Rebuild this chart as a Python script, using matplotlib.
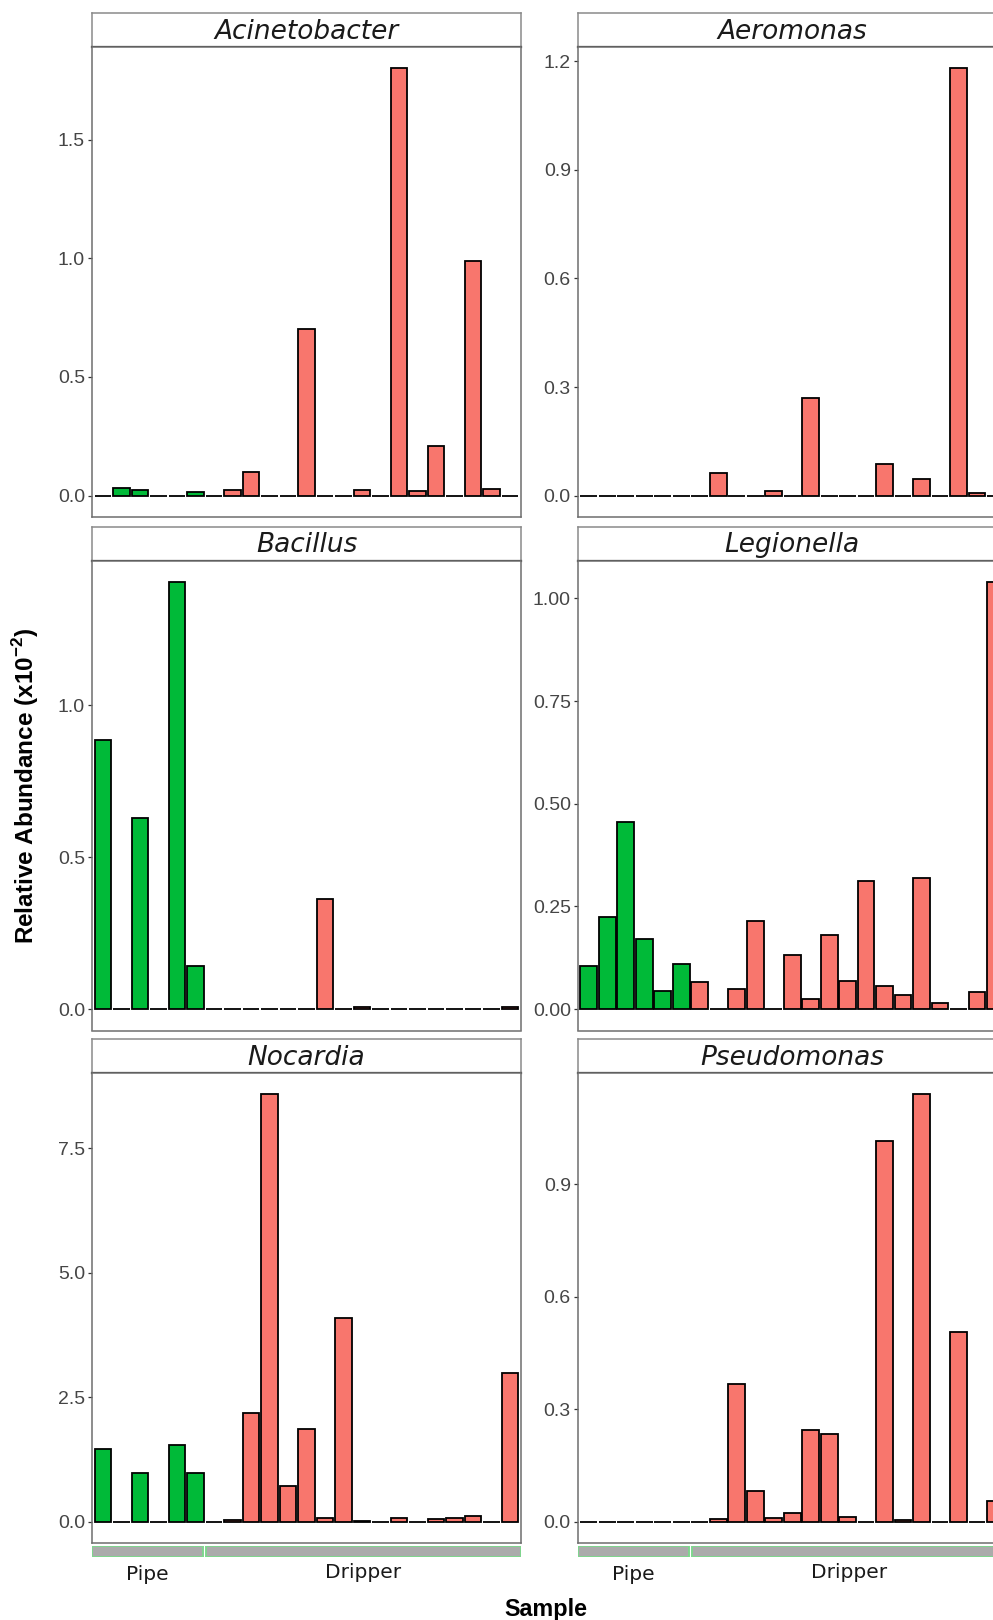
import numpy as np
import matplotlib.pyplot as plt

plt.rcParams['mathtext.fontset'] = 'custom'
plt.rcParams['mathtext.rm'] = 'Liberation Sans'
plt.rcParams['mathtext.bf'] = 'Liberation Sans:bold'

# sample groups (6 pipe samples, 17 dripper samples)
sample_type = ["Pipe"] * 6 + ["Dripper"] * 17
groups = ["Pipe", "Dripper"]

genera = ["Acinetobacter", "Aeromonas", "Bacillus", "Legionella", "Nocardia", "Pseudomonas"]

# relative abundance (x10^-2), one value per sample
acinetobacter = [0, 0.032, 0.025, 0, 0, 0.017, 0, 0.024, 0.10, 0, 0, 0.70, 0,
                 0, 0.025, 0, 1.80, 0.018, 0.21, 0, 0.99, 0.028, 0]
aeromonas = [0, 0, 0, 0, 0, 0, 0, 0.063, 0, 0, 0.014, 0, 0.27,
             0, 0, 0, 0.086, 0, 0.046, 0, 1.18, 0.006, 0]
bacillus = [0.885, 0, 0.63, 0, 1.406, 0.141, 0, 0, 0, 0, 0, 0, 0.364,
            0, 0.008, 0, 0, 0, 0, 0, 0, 0, 0.008]
legionella = [0.105, 0.225, 0.455, 0.17, 0.044, 0.11, 0.067, 0, 0.048, 0.214, 0, 0.131, 0.024,
              0.18, 0.068, 0.312, 0.057, 0.034, 0.32, 0.016, 0, 0.041, 1.04]
nocardia = [1.46, 0, 0.97, 0, 1.53, 0.985, 0, 0.04, 2.18, 8.58, 0.72, 1.87, 0.076,
            4.09, 0.02, 0, 0.076, 0, 0.06, 0.083, 0.106, 0, 2.99]
pseudomonas = [0, 0, 0, 0, 0, 0, 0, 0.008, 0.367, 0.083, 0.01, 0.022, 0.245,
               0.233, 0.013, 0, 1.016, 0.005, 1.14, 0, 0.505, 0, 0.055]
abundance = [acinetobacter, aeromonas, bacillus, legionella, nocardia, pseudomonas]

# y tick labels per panel
tick_labels = [
    ["0.0", "0.5", "1.0", "1.5"],
    ["0.0", "0.3", "0.6", "0.9", "1.2"],
    ["0.0", "0.5", "1.0"],
    ["0.00", "0.25", "0.50", "0.75", "1.00"],
    ["0.0", "2.5", "5.0", "7.5"],
    ["0.0", "0.3", "0.6", "0.9"],
]

pipe_green = "#00BA38"
dripper_red = "#F8766D"

W, H = 993, 1620
fig = plt.figure(figsize=(W / 100, H / 100), dpi=100)


def px_axes(x0, y0, w, h):
    # axes placed in pixel coords measured from the top left corner
    return fig.add_axes([x0 / W, 1 - (y0 + h) / H, w / W, h / H])


col_left = [92, 577.7]
strip_top = [13, 526.5, 1039]
panel_w, strip_h, panel_h = 429, 34, 470

x = np.arange(len(sample_type))
colors = [pipe_green if s == "Pipe" else dripper_red for s in sample_type]

for k, name in enumerate(genera):
    row, col = divmod(k, 2)
    left, top = col_left[col], strip_top[row]

    # facet strip
    ax_s = px_axes(left, top, panel_w, strip_h)
    ax_s.set_xticks([])
    ax_s.set_yticks([])
    for side, sp in ax_s.spines.items():
        sp.set_color('#8A8A8A')
        sp.set_linewidth(1.1)
    ax_s.spines['bottom'].set_color('#333333')
    ax_s.spines['bottom'].set_linewidth(1.6)
    ax_s.text(0.5, 0.45, name, transform=ax_s.transAxes, ha='center', va='center',
              fontsize=19, style='italic', family='DejaVu Sans', color='#1A1A1A')

    # panel
    ax = px_axes(left, top + strip_h, panel_w, panel_h)
    vals = abundance[k]
    ax.bar(x, vals, width=0.9, color=colors, edgecolor='black', linewidth=1.3)
    vmax = max(vals)
    ax.set_ylim(-0.05 * vmax, 1.05 * vmax)
    ax.set_xlim(-0.6, len(x) - 0.4)
    ax.set_xticks([])
    ticks = [float(t) for t in tick_labels[k]]
    ax.set_yticks(ticks)
    ax.set_yticklabels(tick_labels[k], family='Liberation Sans')
    ax.tick_params(axis='y', length=3, width=0.9, color='#333333',
                   labelcolor='#454545', labelsize=14, pad=2)
    for sp in ax.spines.values():
        sp.set_color('#6E6E6E')
        sp.set_linewidth(1.1)

    # pipe / dripper annotation under the bottom row
    if row == 2:
        ax_a = px_axes(left, 1545.5, panel_w, 11)
        ax_a.set_xlim(ax.get_xlim())
        ax_a.set_ylim(0, 1)
        ax_a.axis('off')
        n_pipe = sample_type.count("Pipe")
        starts = [-0.6, n_pipe - 0.43]
        ends = [n_pipe - 0.6, len(x) - 0.4]
        for g, s, e in zip(groups, starts, ends):
            ax_a.bar((s + e) / 2, 1, width=e - s, bottom=0, color='#ABABAB',
                     edgecolor='#7FD68E', linewidth=1.4)
            ax_a.annotate(g, xy=((s + e) / 2, 0), xycoords=('data', 'axes fraction'),
                          xytext=(0, -17 if g == "Pipe" else -15.5), textcoords='offset points',
                          ha='center', va='baseline', fontsize=14.5,
                          family='DejaVu Sans', color='#1A1A1A', annotation_clip=False)

fig.text(26 / W, 1 - 786 / H, 'Relative Abundance (x10$^{\\mathbf{-2}}$)', rotation=90,
         ha='center', va='center', fontsize=17.5, fontweight='bold', family='Liberation Sans')
fig.text(546 / W, 1 - 1616 / H, 'Sample', ha='center', va='baseline',
         fontsize=16.8, fontweight='bold', family='Liberation Sans')

fig.savefig('out.png', dpi=100)
